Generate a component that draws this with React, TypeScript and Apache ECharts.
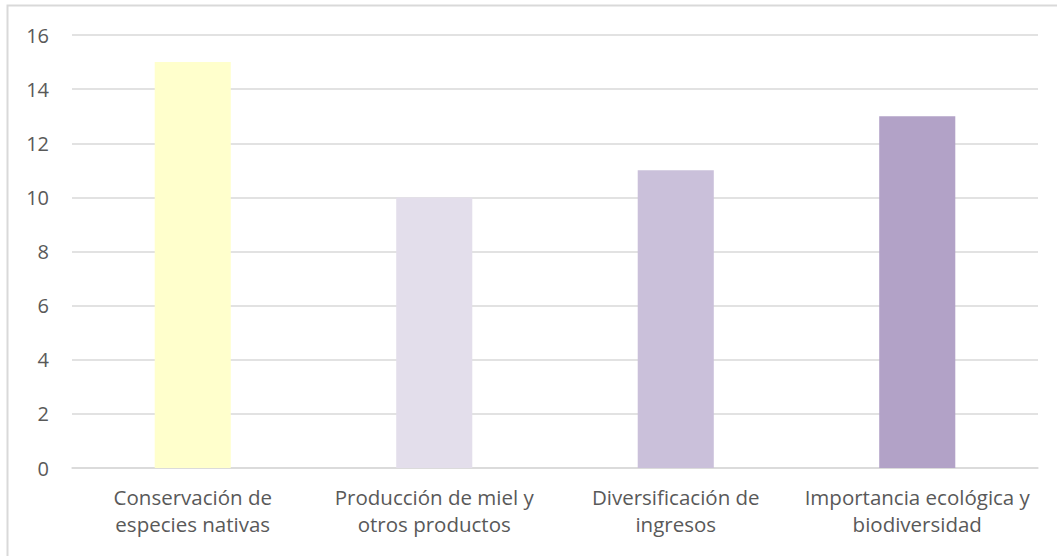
import React, { useEffect, useRef } from "react";
import * as echarts from "echarts";

const categories = [
  "Conservación de\nespecies nativas",
  "Producción de miel y\notros productos",
  "Diversificación de\ningresos",
  "Importancia ecológica y\nbiodiversidad",
];
const values = [15, 10, 11, 13];
const barColors = ["#FFFFCC", "#E3DEEB", "#CAC0DA", "#B2A2C7"];
const yTicks = { min: 0, max: 16, interval: 2 };

export default function App() {
  const ref = useRef<HTMLDivElement>(null);
  useEffect(() => {
    if (!ref.current) return;
    const chart = echarts.init(ref.current, undefined, { renderer: "svg" });
    chart.setOption({
      animation: false,
      backgroundColor: "#ffffff",
      graphic: [
        {
          type: "rect",
          shape: { x: 7.5, y: 5.5, width: 1100, height: 600 },
          style: { fill: "none", stroke: "#D9D9D9", lineWidth: 2 },
          silent: true,
        },
      ],
      grid: { left: 72, right: 19, top: 35, bottom: 88, containLabel: false },
      xAxis: {
        type: "category",
        data: categories,
        axisLine: { show: true, lineStyle: { color: "#D9D9D9", width: 1.5 } },
        axisTick: { show: false },
        axisLabel: {
          color: "#595959",
          fontFamily: "Open Sans",
          fontSize: 20.5,
          lineHeight: 27,
          margin: 15,
          interval: 0,
        },
      },
      yAxis: {
        type: "value",
        min: yTicks.min,
        max: yTicks.max,
        interval: yTicks.interval,
        axisLine: { show: false },
        axisTick: { show: false },
        splitLine: { lineStyle: { color: "#D9D9D9", width: 1.5 } },
        axisLabel: {
          color: "#595959",
          fontFamily: "Open Sans",
          fontSize: 20,
          margin: 23,
        },
      },
      series: [
        {
          type: "bar",
          data: values.map((v, i) => ({ value: v, itemStyle: { color: barColors[i] } })),
          barWidth: "31.5%",
        },
      ],
    });
    return () => chart.dispose();
  }, []);
  return (
    <div
      ref={ref}
      style={{ position: "fixed", left: 0, top: 0, width: 1057, height: 556 }}
    />
  );
}
